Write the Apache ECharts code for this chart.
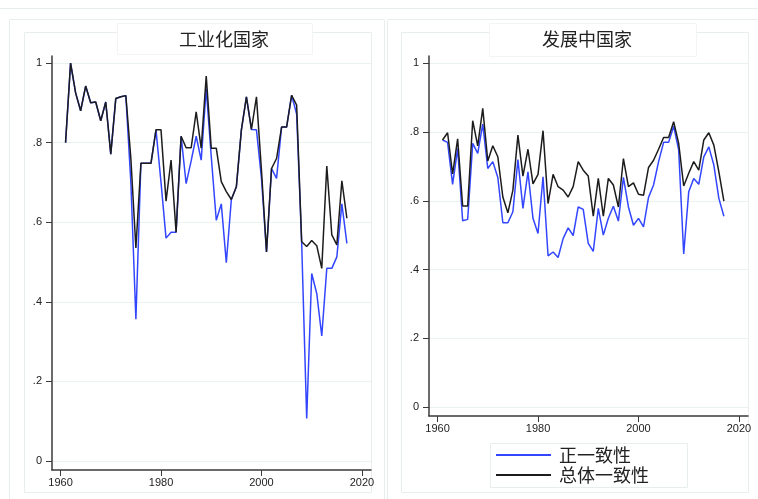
<!DOCTYPE html>
<html><head><meta charset="utf-8">
<script src="https://cdn.jsdelivr.net/npm/echarts@6/dist/echarts.min.js"></script>
<style>html,body{margin:0;padding:0;background:#fff}#c{width:758px;height:499px}</style>
</head><body><div id="c"></div>
<script>
const years = [];
for (let y = 1961; y <= 2017; y++) years.push(y);

const indPositive = [0.80,1.00,0.925,0.88,0.942,0.90,0.902,0.855,0.902,0.771,0.911,0.915,0.918,
  0.70,0.356,0.748,0.748,0.748,0.832,0.70,0.56,0.575,0.575,0.816,0.697,0.754,0.816,0.756,0.936,
  0.765,0.605,0.646,0.498,0.657,0.689,0.832,0.915,0.833,0.832,0.71,0.525,0.735,0.710,0.839,0.839,
  0.919,0.872,0.548,0.107,0.471,0.421,0.314,0.484,0.484,0.513,0.646,0.547];
const indTotal = [0.80,1.00,0.925,0.88,0.942,0.90,0.902,0.855,0.902,0.771,0.911,0.915,0.918,
  0.76,0.535,0.748,0.748,0.748,0.832,0.832,0.653,0.756,0.575,0.816,0.787,0.787,0.877,0.786,0.967,
  0.786,0.786,0.702,0.677,0.657,0.689,0.832,0.915,0.833,0.915,0.73,0.525,0.735,0.760,0.839,0.839,
  0.919,0.894,0.551,0.539,0.554,0.541,0.484,0.741,0.568,0.543,0.704,0.61];
const devPositive = [0.777,0.770,0.648,0.752,0.542,0.546,0.767,0.738,0.823,0.694,0.714,0.668,0.536,
  0.536,0.568,0.720,0.578,0.684,0.549,0.505,0.670,0.440,0.451,0.435,0.490,0.521,0.499,0.582,0.575,
  0.476,0.453,0.578,0.500,0.549,0.584,0.541,0.668,0.582,0.529,0.549,0.524,0.610,0.646,0.714,0.770,
  0.770,0.817,0.748,0.445,0.626,0.665,0.648,0.728,0.757,0.704,0.607,0.555];
const devTotal = [0.777,0.798,0.678,0.780,0.585,0.585,0.833,0.760,0.869,0.716,0.760,0.728,0.611,
  0.565,0.631,0.791,0.672,0.750,0.649,0.677,0.804,0.592,0.677,0.641,0.631,0.611,0.641,0.714,0.689,
  0.672,0.555,0.665,0.555,0.665,0.646,0.582,0.723,0.641,0.652,0.619,0.616,0.697,0.718,0.750,0.784,
  0.784,0.830,0.767,0.643,0.680,0.714,0.689,0.777,0.798,0.762,0.684,0.599];

const xTicks = [1960, 1980, 2000, 2020];
const yTicks = [0, 0.2, 0.4, 0.6, 0.8, 1];
const panelTitles = ['工业化国家', '发展中国家'];
const seriesNames = ['正一致性', '总体一致性'];

const pair = arr => arr.map((v, i) => [years[i], v]);
const fmtY = v => v === 0 ? '0' : v === 1 ? '1' : String(v).replace(/^0\./, '.');
const fmtX = v => String(Math.round(v));
const BLUE = '#3346ff', BLACK = '#1c1c1c', AX = '#3a3a3a', GRID = '#e9f1f1', FAINT = '#e8eeee';
const numFont = 'Liberation Sans';
const cjk = 'Noto Sans CJK SC';

function xAxis(gi) {
  return {
    type: 'value', gridIndex: gi, min: 1958.3, max: 2021.8,
    axisLine: { show: true, onZero: false, lineStyle: { color: AX, width: 1.5 } },
    axisTick: { show: true, length: 6, customValues: xTicks, lineStyle: { color: AX, width: 1 } },
    axisLabel: { customValues: xTicks, margin: 7, fontSize: 11, color: '#222', fontFamily: numFont, formatter: fmtX },
    splitLine: { show: false }
  };
}
function yAxis(gi, min, max) {
  return {
    type: 'value', gridIndex: gi, min: min, max: max,
    axisLine: { show: true, onZero: false, lineStyle: { color: AX, width: 1.5 } },
    axisTick: { show: true, length: 6, customValues: yTicks, lineStyle: { color: AX, width: 1 } },
    axisLabel: { customValues: yTicks, margin: 10, fontSize: 11, color: '#222', fontFamily: numFont, formatter: fmtY },
    splitLine: { show: true, lineStyle: { color: GRID, width: 1 } }
  };
}

const chart = echarts.init(document.getElementById('c'), null, { renderer: 'canvas' });
chart.setOption({
  animation: false,
  backgroundColor: '#fff',
  graphic: [
    { type: 'line', shape: { x1: 0, y1: 8.5, x2: 758, y2: 8.5 }, style: { stroke: FAINT, lineWidth: 1 }, z: -10 },
    { type: 'rect', shape: { x: 9.5, y: 19.5, width: 375, height: 500 }, style: { fill: null, stroke: FAINT, lineWidth: 1 }, z: -10 },
    { type: 'rect', shape: { x: 387.5, y: 19.5, width: 380, height: 500 }, style: { fill: null, stroke: FAINT, lineWidth: 1 }, z: -10 },
    { type: 'rect', shape: { x: 24.5, y: 32.5, width: 347, height: 460 }, style: { fill: null, stroke: FAINT, lineWidth: 1 }, z: -9 },
    { type: 'rect', shape: { x: 401.5, y: 32.5, width: 347, height: 460 }, style: { fill: null, stroke: FAINT, lineWidth: 1 }, z: -9 },
    { type: 'rect', shape: { x: 117.5, y: 23.5, width: 195, height: 31 }, style: { fill: '#fff', stroke: '#f3f5f5', lineWidth: 1 }, z: -8 },
    { type: 'rect', shape: { x: 489.5, y: 23.5, width: 207, height: 33 }, style: { fill: '#fff', stroke: '#f3f5f5', lineWidth: 1 }, z: -8 },
    { type: 'rect', shape: { x: 490.5, y: 443.5, width: 197, height: 44 }, style: { fill: '#fff', stroke: FAINT, lineWidth: 1 }, z: -8 }
  ],
  title: [
    { text: panelTitles[0], left: 219, top: 25, textAlign: 'center', textStyle: { fontFamily: cjk, fontSize: 18, fontWeight: 'normal', color: '#222' } },
    { text: panelTitles[1], left: 582, top: 25, textAlign: 'center', textStyle: { fontFamily: cjk, fontSize: 18, fontWeight: 'normal', color: '#222' } }
  ],
  legend: {
    data: seriesNames, orient: 'vertical', left: 491, top: 440, itemGap: 0,
    icon: 'rect', itemWidth: 55, itemHeight: 2,
    textStyle: { fontFamily: cjk, fontSize: 18, color: '#222', lineHeight: 20, padding: [0, 0, 0, 3] }
  },
  grid: [
    { left: 52, right: 387, top: 56, bottom: 29 },
    { left: 429, right: 10, top: 56, bottom: 83 }
  ],
  xAxis: [xAxis(0), xAxis(1)],
  yAxis: [yAxis(0, -0.0226, 1.0176), yAxis(1, -0.0262, 1.0213)],
  series: [
    { name: seriesNames[0], type: 'line', xAxisIndex: 0, yAxisIndex: 0, data: pair(indPositive), showSymbol: false, lineStyle: { color: BLUE, width: 1.5 }, itemStyle: { color: BLUE }, z: 2 },
    { name: seriesNames[1], type: 'line', xAxisIndex: 0, yAxisIndex: 0, data: pair(indTotal), showSymbol: false, lineStyle: { color: BLACK, width: 1.5 }, itemStyle: { color: BLACK }, z: 3 },
    { name: seriesNames[0], type: 'line', xAxisIndex: 1, yAxisIndex: 1, data: pair(devPositive), showSymbol: false, lineStyle: { color: BLUE, width: 1.5 }, itemStyle: { color: BLUE }, z: 2 },
    { name: seriesNames[1], type: 'line', xAxisIndex: 1, yAxisIndex: 1, data: pair(devTotal), showSymbol: false, lineStyle: { color: BLACK, width: 1.5 }, itemStyle: { color: BLACK }, z: 3 }
  ]
});
</script></body></html>
